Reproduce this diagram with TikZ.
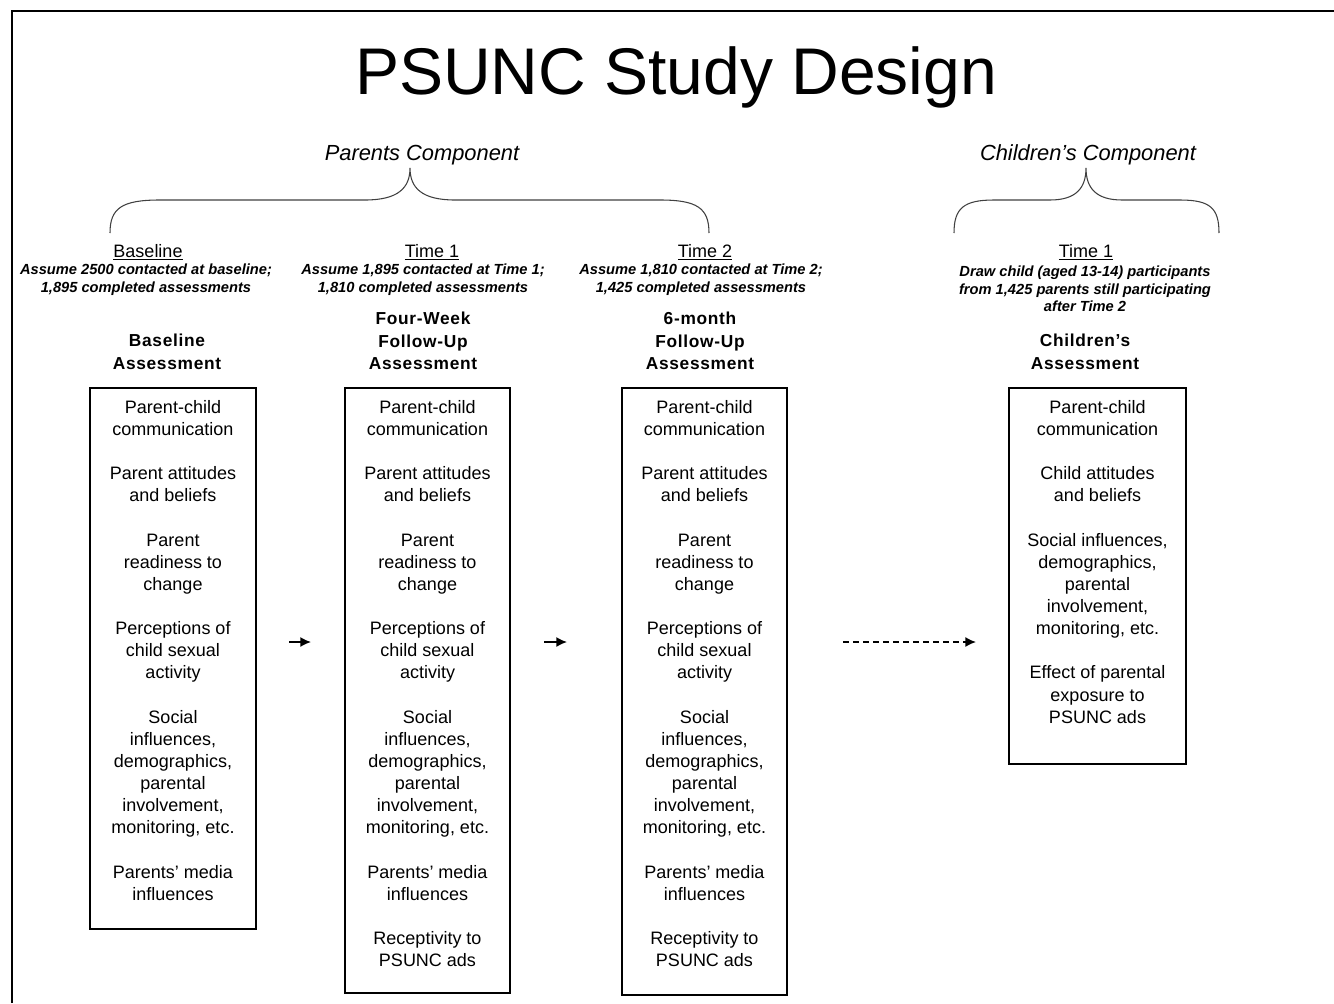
\documentclass[tikz,border=0pt]{standalone}
\usepackage{fontspec}
\setmainfont{Liberation Sans}
\newfontfamily\headfont[LetterSpace=4]{Liberation Sans}
\usetikzlibrary{arrows.meta}
\begin{document}
\begin{tikzpicture}[x=0.75pt,y=-0.75pt,
  stagebox/.style={draw, line width=0.9pt, inner sep=0pt, outer sep=0pt, anchor=north west},
  boxtext/.style={align=center, inner sep=0pt, anchor=north, font=\fontsize{13.5pt}{16.6pt}\selectfont},
  phase/.style={align=center, inner sep=0pt, font=\fontsize{13.5pt}{16pt}\selectfont},
  note/.style={align=center, inner sep=0pt, font=\fontsize{11pt}{13.4pt}\selectfont\bfseries\itshape},
  heading/.style={align=center, inner sep=0pt, font=\fontsize{13pt}{16.9pt}\selectfont\headfont\bfseries},
  comp/.style={inner sep=0pt, font=\fontsize{16.4pt}{19pt}\selectfont\itshape},
  brace/.style={draw=black!75, line width=0.8pt},
  arr/.style={line width=1.2pt, -{Latex[length=8pt,width=7.5pt]}},
]
\useasboundingbox (0,0) rectangle (1334,1003);
% frame
\draw[line width=1.2pt] (12,1003) -- (12,11) -- (1334,11);

% title
\node[inner sep=0pt, font=\fontsize{49.5pt}{55pt}\selectfont] (title) at (676,77) {PSUNC Study Design};

% components
\node[comp] (pc) at (422,155) {Parents Component};
\node[comp] (cc) at (1088,155) {Children’s Component};
\draw[brace] (110,233) .. controls (110,208) and (122,200) .. (160,200) -- (365,200)
  .. controls (398,200) and (410,188) .. (410,168)
  .. controls (410,188) and (422,200) .. (455,200) -- (660,200)
  .. controls (697,200) and (709,208) .. (709,233);
\draw[brace] (954,233) .. controls (954,208) and (964,200) .. (994,200) -- (1050,200)
  .. controls (1076,200) and (1086,188) .. (1086,168)
  .. controls (1086,188) and (1096,200) .. (1122,200) -- (1180,200)
  .. controls (1210,200) and (1219,208) .. (1219,233);

% phase labels
\node[phase] (p1) at (148,252) {\underline{Baseline}};
\node[phase] (p2) at (432,252) {\underline{Time 1}};
\node[phase] (p3) at (705,252) {\underline{Time 2}};
\node[phase] (p4) at (1086,252) {\underline{Time 1}};

\node[note] (n1) at (146,280) {Assume 2500 contacted at baseline;\\1,895 completed assessments};
\node[note] (n2) at (423,280) {Assume 1,895 contacted at Time 1;\\1,810 completed assessments};
\node[note] (n3) at (701,280) {Assume 1,810 contacted at Time 2;\\1,425 completed assessments};
\node[note, font=\fontsize{11pt}{13pt}\selectfont\bfseries\itshape] (n4) at (1085,289) {Draw child (aged 13-14) participants\\from 1,425 parents still participating\\after Time 2};

\node[heading] (h1) at (167,352) {Baseline\\Assessment};
\node[heading] (h2) at (423,341) {Four-Week\\Follow-Up\\Assessment};
\node[heading] (h3) at (700,341) {6-month\\Follow-Up\\Assessment};
\node[heading] (h4) at (1085,352) {Children’s\\Assessment};

% boxes
\node[stagebox, minimum width=124.5pt, minimum height=405.75pt] (box1) at (90,388) {};
\node[stagebox, minimum width=123.75pt, minimum height=453.75pt] (box2) at (345,388) {};
\node[stagebox, minimum width=123.75pt, minimum height=455.25pt] (box3) at (622,388) {};
\node[stagebox, minimum width=132.75pt, minimum height=282pt] (box4) at (1009,388) {};

\node[boxtext] (t1) at ([yshift=-9pt]box1.north) {Parent-child\\communication\\[16.6pt]Parent attitudes\\and beliefs\\[16.6pt]Parent\\readiness to\\change\\[16.6pt]Perceptions of\\child sexual\\activity\\[16.6pt]Social\\influences,\\demographics,\\parental\\involvement,\\monitoring, etc.\\[16.6pt]Parents’ media\\influences};
\node[boxtext] (t2) at ([yshift=-9pt]box2.north) {Parent-child\\communication\\[16.6pt]Parent attitudes\\and beliefs\\[16.6pt]Parent\\readiness to\\change\\[16.6pt]Perceptions of\\child sexual\\activity\\[16.6pt]Social\\influences,\\demographics,\\parental\\involvement,\\monitoring, etc.\\[16.6pt]Parents’ media\\influences\\[16.6pt]Receptivity to\\PSUNC ads};
\node[boxtext] (t3) at ([yshift=-9pt]box3.north) {Parent-child\\communication\\[16.6pt]Parent attitudes\\and beliefs\\[16.6pt]Parent\\readiness to\\change\\[16.6pt]Perceptions of\\child sexual\\activity\\[16.6pt]Social\\influences,\\demographics,\\parental\\involvement,\\monitoring, etc.\\[16.6pt]Parents’ media\\influences\\[16.6pt]Receptivity to\\PSUNC ads};
\node[boxtext] (t4) at ([yshift=-9pt]box4.north) {Parent-child\\communication\\[16.6pt]Child attitudes\\and beliefs\\[16.6pt]Social influences,\\demographics,\\parental\\involvement,\\monitoring, etc.\\[16.6pt]Effect of parental\\exposure to\\PSUNC ads};

% arrows
\coordinate (a1s) at (289,642); \coordinate (a1e) at (311,642);
\coordinate (a2s) at (544,642); \coordinate (a2e) at (567,642);
\coordinate (a3s) at (843,642); \coordinate (a3e) at (976,642);
\draw[arr] (a1s) -- (a1e);
\draw[arr] (a2s) -- (a2e);
\draw[arr, dash pattern=on 4.5pt off 3pt] (a3s) -- (a3e);
\end{tikzpicture}
\end{document}
